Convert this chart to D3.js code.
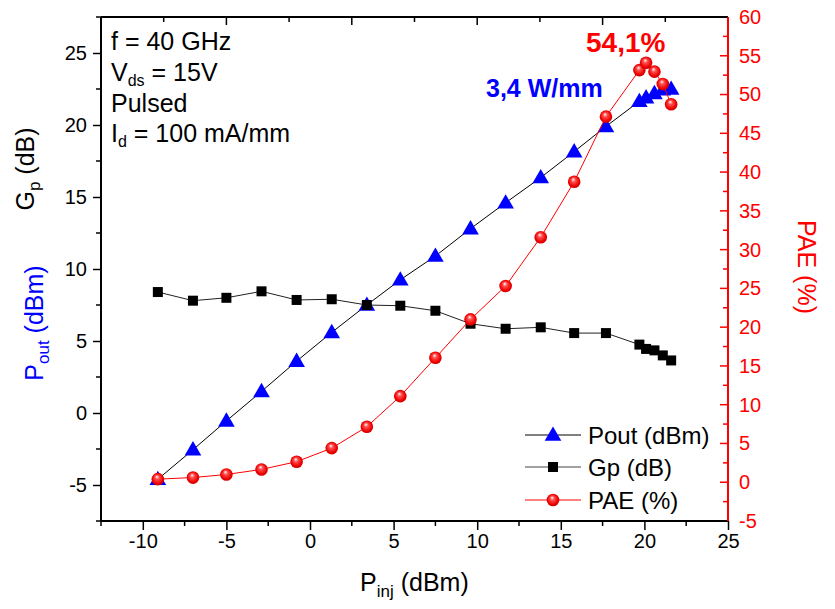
<!DOCTYPE html>
<html>
<head>
<meta charset="utf-8">
<script src="https://cdn.jsdelivr.net/npm/d3@7"></script>
<style>
  html, body { margin: 0; padding: 0; background: #fff; }
  svg { display: block; font-family: "Liberation Sans", Arial, sans-serif; }
</style>
</head>
<body>
<svg id="chart" width="835" height="609"></svg>
<script>
// ---- data ----
const pinj = [-9.1, -7.0, -5.0, -2.9, -0.8, 1.3, 3.4, 5.4, 7.5, 9.6, 11.7, 13.8, 15.8, 17.7, 19.7, 20.1, 20.6, 21.1, 21.6];
const pout = [-4.6, -2.55, -0.55, 1.5, 3.6, 5.6, 7.5, 9.25, 10.9, 12.8, 14.6, 16.35, 18.15, 19.9, 21.65, 21.9, 22.2, 22.45, 22.5];
const gp   = [8.4, 7.8, 8.0, 8.45, 7.85, 7.9, 7.5, 7.45, 7.1, 6.2, 5.85, 5.95, 5.55, 5.55, 4.75, 4.45, 4.35, 4.0, 3.65];
const pae  = [0.4, 0.6, 1.0, 1.65, 2.65, 4.4, 7.15, 11.1, 16.05, 21.0, 25.3, 31.6, 38.75, 47.15, 53.15, 54.1, 52.95, 51.35, 48.75];
const xTicks = [-10, -5, 0, 5, 10, 15, 20, 25];
const yLeftTicks = [-5, 0, 5, 10, 15, 20, 25];
const yRightTicks = [-5, 0, 5, 10, 15, 20, 25, 30, 35, 40, 45, 50, 55, 60];

const L = 101, R = 728, T = 17, B = 521;
const svg = d3.select("#chart");
const x = d3.scaleLinear().domain([-12.5, 25]).range([L, R]);
const yL = d3.scaleLinear().domain([-7.5, 27.5]).range([B, T]);
const yR = d3.scaleLinear().domain([-5, 60]).range([B, T]);
const xTop = d3.scaleLinear().domain([0, 10]).range([L, R]);
const fmt = d => String(d); // plain hyphen-minus

const RED = "#ff0000", BLUE = "#0000ff";

// gradient for spheres
const defs = svg.append("defs");
const grad = defs.append("radialGradient").attr("id", "sph")
  .attr("cx", "0.5").attr("cy", "0.5").attr("r", "0.55").attr("fx", "0.42").attr("fy", "0.3");
grad.append("stop").attr("offset", "0").attr("stop-color", "#ffffff");
grad.append("stop").attr("offset", "0.3").attr("stop-color", "#ff5050");
grad.append("stop").attr("offset", "0.75").attr("stop-color", "#ee0000");
grad.append("stop").attr("offset", "1").attr("stop-color", "#c00000");

// ---- axes ----
const tickMinor = d3.range(-12.5, 25.01, 2.5);
// bottom axis
const gB = svg.append("g").attr("transform", `translate(0,${B})`)
  .call(d3.axisBottom(x).tickValues(xTicks).tickFormat(fmt).tickSize(9).tickSizeOuter(0).tickPadding(4));
gB.selectAll(".tick text").attr("font-size", 20).attr("fill", "#000").attr("font-family", "Liberation Sans, Arial, sans-serif");
gB.select(".domain").remove();
gB.append("g").selectAll("line").data(tickMinor.filter(v => !xTicks.includes(v)))
  .join("line").attr("x1", d => x(d)).attr("x2", d => x(d)).attr("y1", 0).attr("y2", 5).attr("stroke", "#000").attr("stroke-width", 1.5);
gB.selectAll(".tick line").attr("stroke-width", 1.5);

// left axis
const gL = svg.append("g").attr("transform", `translate(${L},0)`)
  .call(d3.axisLeft(yL).tickValues(yLeftTicks).tickFormat(fmt).tickSize(8).tickSizeOuter(0).tickPadding(6));
gL.selectAll(".tick text").attr("font-size", 20).attr("fill", "#000").attr("font-family", "Liberation Sans, Arial, sans-serif");
gL.select(".domain").remove();
gL.selectAll(".tick line").attr("stroke-width", 1.5);
gL.append("g").selectAll("line").data(d3.range(-7.5, 27.51, 2.5).filter(v => !yLeftTicks.includes(v)))
  .join("line").attr("y1", d => yL(d)).attr("y2", d => yL(d)).attr("x1", 0).attr("x2", -5).attr("stroke", "#000").attr("stroke-width", 1.5);

// right axis (inward ticks, red)
const gR = svg.append("g").attr("transform", `translate(${R},0)`)
  .call(d3.axisRight(yR).tickValues(yRightTicks).tickFormat(fmt).tickSize(0).tickPadding(11));
gR.selectAll(".tick text").attr("font-size", 20).attr("fill", RED).attr("font-family", "Liberation Sans, Arial, sans-serif");
gR.select(".domain").remove();
gR.selectAll(".tick line").remove();
gR.append("g").selectAll("line").data(d3.range(-5, 60.01, 2.5))
  .join("line").attr("y1", d => yR(d)).attr("y2", d => yR(d)).attr("x1", 0)
  .attr("x2", d => (d % 5 === 0 ? -8 : -5)).attr("stroke", RED).attr("stroke-width", 1.5);

// top axis (inward ticks)
const gT = svg.append("g");
gT.selectAll("line").data(d3.range(0, 11))
  .join("line").attr("x1", d => xTop(d)).attr("x2", d => xTop(d)).attr("y1", T)
  .attr("y2", d => T + (d % 2 === 0 ? 8 : 5)).attr("stroke", "#000").attr("stroke-width", 1.5);

// spines
svg.append("line").attr("x1", L).attr("x2", R).attr("y1", B).attr("y2", B).attr("stroke", "#000").attr("stroke-width", 2);
svg.append("line").attr("x1", L).attr("x2", R).attr("y1", T).attr("y2", T).attr("stroke", "#000").attr("stroke-width", 2);
svg.append("line").attr("x1", L).attr("x2", L).attr("y1", T).attr("y2", B).attr("stroke", "#000").attr("stroke-width", 2);
svg.append("line").attr("x1", R).attr("x2", R).attr("y1", T).attr("y2", B).attr("stroke", RED).attr("stroke-width", 2);

// ---- series ----
const idx = d3.range(pinj.length);
const triPath = d3.symbol().type(d3.symbolTriangle).size(120);
const sqPath = d3.symbol().type(d3.symbolSquare).size(100);

// Pout
svg.append("path").datum(idx)
  .attr("d", d3.line().x(i => x(pinj[i])).y(i => yL(pout[i])))
  .attr("fill", "none").attr("stroke", "#000").attr("stroke-width", 1);
svg.append("g").selectAll("path").data(idx).join("path")
  .attr("d", triPath).attr("transform", i => `translate(${x(pinj[i])},${yL(pout[i]) + 1})`)
  .attr("fill", BLUE);

// Gp
svg.append("path").datum(idx)
  .attr("d", d3.line().x(i => x(pinj[i])).y(i => yL(gp[i])))
  .attr("fill", "none").attr("stroke", "#222").attr("stroke-width", 1);
svg.append("g").selectAll("path").data(idx).join("path")
  .attr("d", sqPath).attr("transform", i => `translate(${x(pinj[i])},${yL(gp[i])})`)
  .attr("fill", "#000");

// PAE
svg.append("path").datum(idx)
  .attr("d", d3.line().x(i => x(pinj[i])).y(i => yR(pae[i])))
  .attr("fill", "none").attr("stroke", RED).attr("stroke-width", 1);
svg.append("g").selectAll("circle").data(idx).join("circle")
  .attr("cx", i => x(pinj[i])).attr("cy", i => yR(pae[i])).attr("r", 6.3)
  .attr("fill", "url(#sph)");

// ---- legend ----
const leg = svg.append("g");
const legRows = [
  { label: "Pout (dBm)", y: 435, color: "#000", kind: "tri" },
  { label: "Gp (dB)", y: 467, color: "#444", kind: "sq" },
  { label: "PAE (%)", y: 500, color: RED, kind: "circ" }
];
legRows.forEach(r => {
  leg.append("line").attr("x1", 525).attr("x2", 581).attr("y1", r.y).attr("y2", r.y)
    .attr("stroke", r.color).attr("stroke-width", 1);
  if (r.kind === "tri") leg.append("path").attr("d", triPath).attr("transform", `translate(553,${r.y + 1})`).attr("fill", BLUE);
  if (r.kind === "sq") leg.append("path").attr("d", sqPath).attr("transform", `translate(553,${r.y})`).attr("fill", "#000");
  if (r.kind === "circ") leg.append("circle").attr("cx", 553).attr("cy", r.y).attr("r", 6.3).attr("fill", "url(#sph)");
  leg.append("text").attr("x", 588).attr("y", r.y + 9).attr("font-size", 24).attr("fill", "#000").text(r.label);
});

// ---- annotations ----
const ann = svg.append("g").attr("font-size", 25).attr("fill", "#000");
ann.append("text").attr("x", 111).attr("y", 50).text("f = 40 GHz");
const t2 = ann.append("text").attr("x", 111).attr("y", 81);
t2.append("tspan").text("V");
t2.append("tspan").attr("font-size", 16).attr("dy", 5).text("ds");
t2.append("tspan").attr("dy", -5).text(" = 15V");
ann.append("text").attr("x", 111).attr("y", 112).text("Pulsed");
const t4 = ann.append("text").attr("x", 111).attr("y", 142);
t4.append("tspan").text("I");
t4.append("tspan").attr("font-size", 16).attr("dy", 5).text("d");
t4.append("tspan").attr("dy", -5).text(" = 100 mA/mm");

svg.append("text").attr("x", 586).attr("y", 52).attr("font-size", 28).attr("font-weight", "bold").attr("fill", RED).text("54,1%");
svg.append("text").attr("x", 486).attr("y", 97).attr("font-size", 25).attr("font-weight", "bold").attr("fill", BLUE).text("3,4 W/mm");

// ---- axis titles ----
const xt = svg.append("text").attr("x", 360).attr("y", 591).attr("font-size", 25).attr("fill", "#000");
xt.append("tspan").text("P");
xt.append("tspan").attr("font-size", 17).attr("dy", 6).text("inj");
xt.append("tspan").attr("dy", -6).text(" (dBm)");

const yt1 = svg.append("text").attr("transform", "translate(43,323) rotate(-90)").attr("text-anchor", "middle").attr("font-size", 25).attr("fill", BLUE);
yt1.append("tspan").text("P");
yt1.append("tspan").attr("font-size", 17).attr("dy", 6).text("out");
yt1.append("tspan").attr("dy", -6).text(" (dBm)");

const yt2 = svg.append("text").attr("transform", "translate(34,169) rotate(-90)").attr("text-anchor", "middle").attr("font-size", 25).attr("fill", "#000");
yt2.append("tspan").text("G");
yt2.append("tspan").attr("font-size", 17).attr("dy", 6).text("p");
yt2.append("tspan").attr("dy", -6).text(" (dB)");

svg.append("text").attr("transform", "translate(798,267) rotate(90)").attr("text-anchor", "middle")
  .attr("font-size", 25).attr("fill", RED).text("PAE (%)");
</script>
</body>
</html>
